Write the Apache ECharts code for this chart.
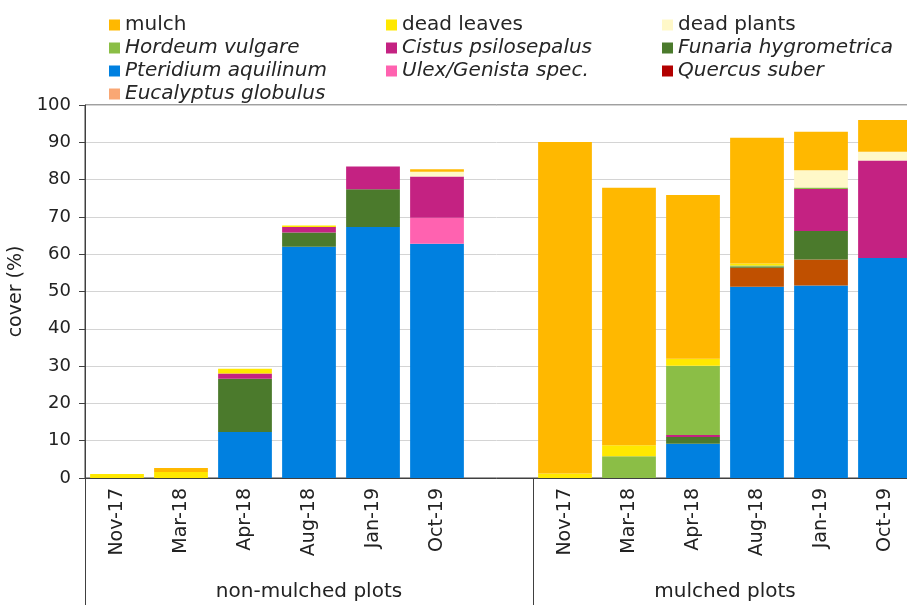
<!DOCTYPE html>
<html>
<head>
<meta charset="utf-8">
<script src="https://cdn.jsdelivr.net/npm/echarts@6/dist/echarts.min.js"></script>
<style>
  html, body { margin: 0; padding: 0; background: #fff; }
  #main { width: 907px; height: 605px; }
</style>
</head>
<body>
<div id="main"></div>
<script>
// categories: two groups of dates, with one empty slot between them
const dates = ['Nov-17', 'Mar-18', 'Apr-18', 'Aug-18', 'Jan-19', 'Oct-19']
const categories = dates.concat([''], dates)
const groups = ['non-mulched plots', 'mulched plots']

// cover (%) per category (null = not present)
const pteridium = [null, null, 12.3, 62.0, 67.3, 62.8, null, null, null, 9.2, 51.3, 51.6, 59.0]
const quercus = [null, null, null, null, null, null, null, null, null, null, 5.1, 7.0, null]
const eucalyptus = [null, null, null, null, null, null, null, null, null, null, null, null, null]
const ulex = [null, null, null, null, null, 7.0, null, null, null, null, null, null, null]
const funaria = [null, null, 14.3, 3.8, 10.1, null, null, null, null, 1.8, 0.3, 7.6, null]
const cistus = [null, null, 1.4, 1.5, 6.1, 11.0, null, null, null, 0.5, null, 11.3, 26.1]
const hordeum = [null, null, null, null, null, null, null, null, 5.8, 18.6, 0.3, 0.4, null]
const deadLeaves = [1.1, 1.6, 1.3, 0.4, null, null, null, 1.2, 3.0, 1.9, 0.5, null, null]
const deadPlants = [null, null, null, null, null, 1.3, null, null, null, null, null, 4.6, 2.4]
const mulch = [null, 1.1, null, null, null, 0.7, null, 88.9, 69.0, 43.9, 33.7, 10.3, 8.5]

const yTicks = { min: 0, max: 100, interval: 10 }

// stacking order, bottom to top
const layers = [
  { name: 'Pteridium aquilinum', data: pteridium, color: '#0080E0' },
  { name: 'Quercus suber', data: quercus, color: '#C05000' },
  { name: 'Eucalyptus globulus', data: eucalyptus, color: '#F9A774' },
  { name: 'Ulex/Genista spec.', data: ulex, color: '#FF62B0' },
  { name: 'Funaria hygrometrica', data: funaria, color: '#4B7A2C' },
  { name: 'Cistus psilosepalus', data: cistus, color: '#C42282' },
  { name: 'Hordeum vulgare', data: hordeum, color: '#8BBE46' },
  { name: 'dead leaves', data: deadLeaves, color: '#FFE800' },
  { name: 'dead plants', data: deadPlants, color: '#FFF8C8' },
  { name: 'mulch', data: mulch, color: '#FFB800' }
]

const font = 'DejaVu Sans'
const italic = { fontStyle: 'italic' }

function legendCol (left, items) {
  return {
    orient: 'vertical',
    left: left,
    top: 10,
    itemWidth: 11,
    itemHeight: 11,
    itemGap: 3,
    icon: 'rect',
    selectedMode: false,
    textStyle: { fontFamily: font, fontSize: 20, lineHeight: 20, color: '#262626' },
    data: items
  }
}

const chart = echarts.init(document.getElementById('main'))
const option = {
  animation: false,
  legend: [
    legendCol(104, [
      { name: 'mulch' },
      { name: 'Hordeum vulgare', textStyle: italic },
      { name: 'Pteridium aquilinum', textStyle: italic },
      { name: 'Eucalyptus globulus', textStyle: italic }
    ]),
    legendCol(381, [
      { name: 'dead leaves' },
      { name: 'Cistus psilosepalus', textStyle: italic },
      { name: 'Ulex/Genista spec.', textStyle: italic }
    ]),
    legendCol(657, [
      { name: 'dead plants' },
      { name: 'Funaria hygrometrica', textStyle: italic },
      { name: 'Quercus suber', textStyle: italic, itemStyle: { color: '#B20000' } }
    ])
  ],
  grid: {
    left: 85,
    top: 105,
    width: 832,
    bottom: 127,
    outerBoundsMode: 'none',
    show: true,
    borderColor: '#404040',
    borderWidth: 1
  },
  xAxis: [
    {
      type: 'category',
      data: categories,
      axisLine: { lineStyle: { color: '#404040', width: 1 } },
      axisTick: {
        show: true,
        length: 127,
        interval: (i) => i === 0 || i === 7,
        lineStyle: { color: '#404040' }
      },
      axisLabel: {
        interval: 0,
        rotate: 90,
        margin: 10,
        fontFamily: font,
        fontSize: 19,
        color: '#222'
      }
    },
    {
      // group captions under the dates
      type: 'value',
      position: 'bottom',
      min: 0,
      max: 13,
      axisLine: { show: false },
      axisTick: { show: false },
      splitLine: { show: false },
      axisLabel: {
        customValues: [3.5, 10],
        formatter: (v) => v < 7 ? groups[0] : groups[1],
        margin: 104,
        fontFamily: font,
        fontSize: 20,
        color: '#222'
      }
    }
  ],
  yAxis: {
    type: 'value',
    min: yTicks.min,
    max: yTicks.max,
    interval: yTicks.interval,
    name: 'cover (%)',
    nameLocation: 'middle',
    nameGap: 54,
    nameTextStyle: { fontFamily: font, fontSize: 19, color: '#222' },
    axisLine: { show: true, lineStyle: { color: '#404040' } },
    axisTick: { show: true, length: 6, lineStyle: { color: '#404040' } },
    axisLabel: { margin: 14, fontFamily: font, fontSize: 18, color: '#222' },
    splitLine: { lineStyle: { color: '#D4D4D4', width: 1 } }
  },
  series: layers.map(l => ({
    name: l.name,
    type: 'bar',
    stack: 'cover',
    barWidth: '84%',
    data: l.data,
    itemStyle: { color: l.color }
  }))
}
chart.setOption(option)
</script>
</body>
</html>
